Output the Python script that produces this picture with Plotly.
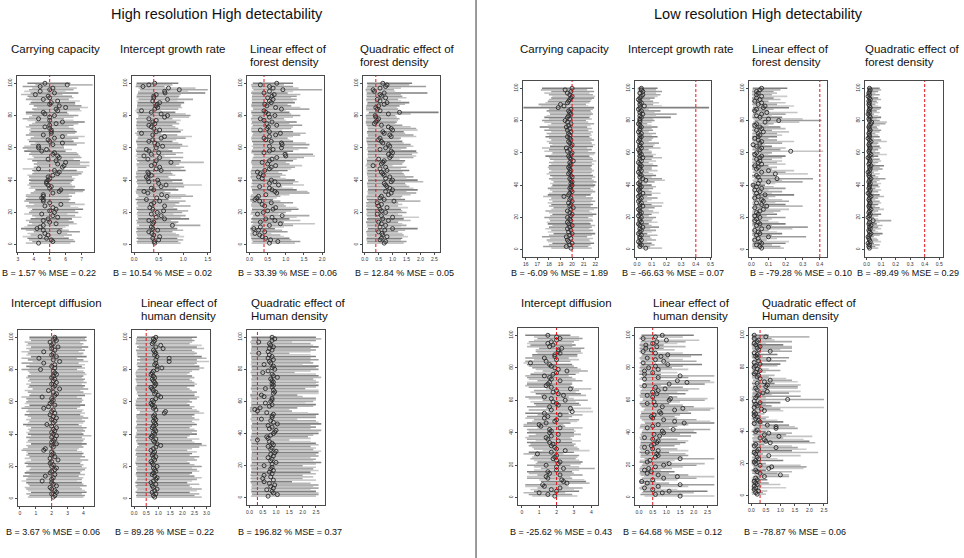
import plotly.graph_objects as go

W, H = 964, 558

# ---------------- data (rows 1..100 = simulation index, bottom to top) ----------------
sim = list(range(1, 101))

cc_hr_est = [4.3,5.2,5.1,4.8,4.4,4.9,4.7,5.6,4.6,4.2, 4.4,4.6,5.4,5.0,4.6,4.9,5.5,5.2,4.5,5.3,
             5.0,5.4,5.2,4.7,5.7,5.0,4.6,4.6,4.5,4.6, 4.6,5.2,5.6,5.7,5.0,5.1,4.9,4.8,4.8,4.9,
             5.0,4.9,5.2,5.5,5.6,5.3,4.3,5.8,5.9,5.5, 6.0,5.4,4.9,5.6,5.5,5.2,5.3,4.5,4.8,4.3,
             4.3,5.2,5.8,5.0,4.9,5.3,5.8,4.6,5.1,5.1, 5.1,5.0,4.7,5.0,5.4,5.8,5.0,4.3,5.0,5.3,
             4.7,4.6,5.5,5.4,6.0,5.6,5.0,5.1,5.5,4.6, 5.0,4.9,4.1,5.3,4.4,5.0,5.2,4.4,6.1,4.7]
cc_hr_lo = [3.5,3.9,3.7,3.6,3.3,3.8,3.6,4.0,3.5,3.2, 3.4,3.6,3.9,3.7,3.5,3.8,4.1,3.9,3.4,3.7,
            3.8,3.9,3.6,3.5,4.0,3.7,3.4,3.5,3.6,3.5, 3.5,3.8,4.0,4.1,3.7,3.8,3.6,3.7,3.8,3.7,
            3.8,3.7,3.6,3.9,4.0,3.9,3.3,4.0,4.2,4.0, 4.2,3.9,3.6,4.0,3.9,3.7,3.8,3.4,3.6,3.3,
            3.4,3.8,4.1,3.7,3.6,3.8,4.0,3.5,3.7,3.8, 3.7,3.8,3.5,3.7,3.9,4.1,3.6,3.3,3.7,3.9,
            3.5,3.5,4.0,3.9,4.2,4.0,3.7,3.8,3.9,3.5, 3.7,3.6,3.2,3.8,3.4,3.7,3.9,3.3,4.1,3.6]
cc_hr_hi = [6.3,6.6,6.5,6.2,5.9,6.4,6.1,6.9,6.2,5.8, 6.0,6.2,6.7,6.5,6.2,6.4,7.0,6.6,6.1,6.8,
            6.6,7.1,6.8,6.3,7.2,6.6,6.2,6.3,6.2,6.4, 6.2,6.6,7.1,7.2,6.5,6.6,6.4,6.3,6.4,6.5,
            6.6,6.4,6.8,7.0,7.1,6.7,5.9,7.3,7.5,6.9, 7.5,6.9,6.5,7.0,6.9,6.8,6.7,6.0,6.4,5.9,
            5.9,6.7,7.2,6.5,6.4,6.8,7.2,6.1,6.6,6.7, 6.6,6.5,6.2,6.5,6.8,7.2,6.5,5.9,6.5,6.8,
            6.2,6.1,7.0,6.9,7.4,7.0,6.6,6.6,6.9,6.2, 6.5,6.4,5.8,6.8,6.0,6.5,6.7,6.0,7.7,6.3]

igr_hr_est = [0.42,0.41,0.50,0.38,0.52,0.40,0.36,0.30,0.48,0.38, 0.35,0.78,0.38,0.40,0.30,0.62,0.45,0.55,0.35,0.47,
              0.60,0.38,0.32,0.62,0.35,0.40,0.52,0.25,0.46,0.67, 0.56,0.28,0.20,0.40,0.35,0.55,0.65,0.50,0.30,0.48,
              0.28,0.25,0.35,0.30,0.28,0.55,0.45,0.52,0.35,0.42, 0.75,0.45,0.28,0.52,0.20,0.35,0.50,0.30,0.25,0.45,
              0.58,0.48,0.42,0.30,0.38,0.55,0.62,0.38,0.15,0.45, 0.52,0.40,0.35,0.30,0.42,0.38,0.45,0.30,0.62,0.68,
              0.55,0.35,0.15,0.42,0.48,0.45,0.47,0.52,0.38,0.68, 0.40,0.40,0.45,0.63,0.62,0.92,0.70,0.18,0.30,0.42]
igr_hr_lo = [0.06,0.05,0.08,0.05,0.07,0.06,0.05,0.04,0.07,0.05, 0.05,0.10,0.05,0.06,0.04,0.08,0.06,0.07,0.05,0.06,
             0.08,0.05,0.04,0.08,0.05,0.05,0.07,0.03,0.06,0.09, 0.07,0.04,0.03,0.05,0.05,0.07,0.08,0.06,0.04,0.06,
             0.04,0.03,0.05,0.04,0.04,0.07,0.06,0.07,0.05,0.05, 0.10,0.06,0.04,0.07,0.03,0.05,0.06,0.04,0.03,0.06,
             0.07,0.06,0.05,0.04,0.05,0.07,0.08,0.05,0.02,0.06, 0.07,0.05,0.05,0.04,0.05,0.05,0.06,0.04,0.08,0.09,
             0.07,0.05,0.02,0.05,0.06,0.06,0.06,0.07,0.05,0.09, 0.05,0.05,0.06,0.08,0.08,0.12,0.09,0.03,0.04,0.05]
igr_hr_hi = [0.95,0.90,1.00,0.88,1.02,0.92,0.85,0.78,1.00,0.88, 0.82,1.35,0.86,0.90,0.75,1.12,0.95,1.05,0.80,0.98,
             1.10,0.88,0.80,1.15,0.84,0.92,1.05,0.70,0.96,1.20, 1.05,0.74,0.62,0.90,0.85,1.02,1.38,1.00,0.78,0.98,
             0.74,0.70,0.84,0.78,0.75,1.05,0.95,1.02,0.85,0.92, 1.42,0.95,0.74,1.00,0.62,0.85,1.00,0.78,0.70,0.94,
             1.10,0.98,0.90,0.78,0.86,1.05,1.18,0.88,0.55,0.95, 1.00,0.90,0.84,0.78,0.92,0.86,0.95,0.78,1.12,1.15,
             1.05,0.84,0.55,0.90,0.98,0.95,0.96,1.02,0.88,1.20, 0.90,0.92,0.95,1.45,1.10,1.50,1.25,0.62,0.78,0.90]

lfd_hr_est = [0.55,0.78,0.58,0.45,0.35,0.28,0.15,0.42,0.25,0.12, 0.30,0.55,0.85,0.30,0.70,0.45,0.62,0.90,0.22,0.38,
              0.50,0.65,0.72,0.42,0.35,0.60,0.28,0.15,0.20,0.25, 0.45,0.75,0.70,0.62,0.55,0.28,0.80,0.55,0.70,0.60,
              0.35,0.25,0.38,0.30,0.22,0.42,0.55,0.60,0.72,0.50, 0.35,0.55,0.62,0.75,1.00,0.98,0.40,0.55,0.65,0.88,
              0.55,0.90,0.88,0.60,0.45,0.40,0.55,0.72,0.85,0.55, 0.30,0.48,0.52,0.75,0.48,0.62,0.40,0.30,0.55,0.70,
              0.52,0.45,0.40,0.88,0.72,0.48,0.42,0.60,0.55,0.65, 0.50,0.62,0.68,0.40,0.55,0.92,0.65,0.55,0.30,0.75]
lfd_hr_lo = [0.06,0.09,0.06,0.05,0.04,0.03,0.02,0.05,0.03,0.02, 0.04,0.06,0.10,0.04,0.08,0.05,0.07,0.10,0.03,0.05,
             0.06,0.07,0.08,0.05,0.04,0.07,0.03,0.02,0.03,0.03, 0.05,0.09,0.08,0.07,0.06,0.04,0.09,0.06,0.08,0.07,
             0.04,0.03,0.05,0.04,0.03,0.05,0.06,0.07,0.08,0.06, 0.04,0.06,0.07,0.09,0.12,0.11,0.05,0.06,0.07,0.10,
             0.06,0.10,0.10,0.07,0.05,0.05,0.06,0.08,0.10,0.06, 0.04,0.05,0.06,0.09,0.05,0.07,0.05,0.04,0.06,0.08,
             0.06,0.05,0.05,0.10,0.08,0.05,0.05,0.07,0.06,0.07, 0.06,0.07,0.08,0.05,0.06,0.11,0.07,0.06,0.04,0.09]
lfd_hr_hi = [1.25,1.40,1.15,1.10,0.95,0.85,0.60,1.05,0.90,0.70, 0.95,1.20,1.80,0.95,1.40,1.10,1.30,1.65,0.80,1.00,
             1.15,1.35,1.30,1.00,0.95,1.20,0.85,0.65,0.75,0.85, 1.10,1.65,1.60,1.30,1.20,0.90,1.50,1.20,1.35,1.25,
             1.00,0.85,1.00,0.90,0.80,1.05,1.15,1.25,1.45,1.10, 1.00,1.20,1.30,1.50,1.80,1.75,1.05,1.20,1.35,1.60,
             1.20,1.65,1.55,1.20,1.10,1.05,1.20,1.40,1.55,1.20, 0.90,1.15,1.20,1.45,1.10,1.30,1.00,0.95,1.20,1.40,
             1.15,1.10,1.00,1.65,1.40,1.15,1.05,1.25,1.20,1.30, 1.15,1.30,1.40,1.05,1.20,2.00,1.35,1.20,0.95,1.20]

qfd_hr_est = [0.70,0.75,0.55,0.60,0.80,0.65,0.62,0.50,0.72,1.00, 0.55,0.75,0.60,0.50,0.85,0.65,1.00,0.60,0.45,0.75,
              0.60,0.55,0.80,0.50,0.60,0.45,1.05,0.70,0.55,0.60, 0.85,0.95,0.75,1.00,0.90,0.80,0.75,0.70,0.95,1.00,
              0.75,0.90,0.70,0.65,0.60,0.80,0.55,0.75,0.30,0.60, 0.65,0.70,0.50,0.90,0.95,0.85,1.00,0.95,0.55,0.75,
              0.90,0.85,0.65,0.60,0.50,0.55,0.95,0.90,0.70,0.65, 1.00,0.95,0.85,0.60,0.35,0.40,0.45,0.50,0.40,0.38,
              0.85,1.25,0.55,0.45,0.40,0.50,0.70,0.80,0.55,0.45, 0.75,0.60,0.55,0.70,0.35,0.30,0.55,0.75,0.80,0.65]
qfd_hr_lo = [0.08,0.09,0.06,0.07,0.10,0.08,0.07,0.05,0.09,0.12, 0.06,0.09,0.07,0.05,0.10,0.08,0.12,0.07,0.05,0.09,
             0.07,0.06,0.10,0.05,0.07,0.05,0.13,0.08,0.06,0.07, 0.10,0.11,0.09,0.12,0.11,0.10,0.09,0.08,0.11,0.12,
             0.09,0.11,0.08,0.08,0.07,0.10,0.06,0.09,0.03,0.07, 0.08,0.08,0.06,0.11,0.11,0.10,0.12,0.11,0.06,0.09,
             0.11,0.10,0.08,0.07,0.06,0.06,0.11,0.11,0.08,0.08, 0.12,0.11,0.10,0.07,0.04,0.04,0.05,0.06,0.04,0.04,
             0.10,0.15,0.06,0.05,0.04,0.06,0.08,0.10,0.06,0.05, 0.09,0.07,0.06,0.08,0.04,0.03,0.06,0.09,0.10,0.08]
qfd_hr_hi = [1.40,1.50,1.30,1.35,1.55,1.40,1.35,1.20,1.45,1.90, 1.30,1.50,1.35,1.20,1.65,1.40,1.95,1.35,1.20,1.50,
             1.35,1.30,1.55,1.20,1.35,1.20,2.00,1.45,1.30,1.35, 1.65,1.85,1.50,1.90,1.75,1.60,1.50,1.45,2.10,1.90,
             1.50,1.75,1.45,1.40,1.35,1.60,1.30,1.50,1.00,1.35, 1.40,1.45,1.25,1.75,1.85,1.70,1.90,1.85,1.30,1.50,
             1.75,1.65,1.40,1.35,1.25,1.30,1.85,1.75,1.45,1.40, 1.90,1.85,1.65,1.35,1.10,1.15,1.20,1.25,1.15,1.10,
             1.65,2.65,1.30,1.20,1.15,1.25,1.45,1.60,1.30,1.20, 1.50,1.35,1.30,2.25,1.10,1.05,1.30,2.20,1.60,1.70]

cc_lr_est = [19.9,19.5,19.8,20.0,19.7,19.6,19.9,19.5,19.8,20.0, 19.7,19.9,19.6,19.8,20.0,19.7,19.6,19.9,19.8,19.6,
             19.9,20.0,19.8,19.6,19.9,20.1,19.8,19.9,19.7,20.0, 19.8,19.9,19.3,19.7,19.8,20.0,19.9,19.8,19.9,20.0,
             19.9,20.0,19.9,19.8,20.0,19.9,19.7,19.8,19.9,19.8, 19.7,19.8,19.9,19.8,20.1,19.9,19.8,19.7,19.9,20.0,
             19.6,19.8,19.5,19.9,20.0,19.8,19.7,19.9,19.8,19.6, 19.8,19.7,19.9,19.6,19.8,19.5,19.7,19.9,19.6,19.4,
             19.8,19.6,19.7,19.9,19.8,19.7,19.9,18.8,19.3,19.0, 19.6,19.7,19.8,19.9,20.0,19.8,19.6,19.9,19.4,20.0]
cc_lr_lo = [18.2,17.5,18.0,18.3,17.9,17.8,18.1,17.4,18.0,18.4, 17.9,18.2,17.7,18.0,18.3,17.9,17.8,18.1,18.0,17.6,
            18.1,18.3,18.0,17.7,18.2,18.4,18.0,18.2,17.9,18.3, 18.0,18.2,17.5,17.9,18.0,18.3,18.1,17.9,18.2,18.3,
            18.1,18.4,18.2,18.0,18.3,18.1,17.8,18.0,18.2,18.0, 17.9,18.0,18.2,18.0,18.4,18.1,18.0,17.7,18.2,18.3,
            17.6,18.0,17.4,18.1,18.3,18.0,17.8,18.2,18.0,17.7, 18.0,17.8,18.2,17.6,18.0,17.2,17.9,18.2,17.6,17.4,
            18.0,17.6,17.8,18.1,18.0,17.8,18.0,15.8,17.3,17.1, 17.7,17.9,18.0,18.2,18.3,18.0,17.6,18.2,17.3,17.4]
cc_lr_hi = [21.7,21.4,21.6,21.9,21.6,21.5,21.8,21.3,21.7,22.0, 21.6,21.8,21.5,21.7,22.0,21.6,21.5,21.8,21.7,21.4,
            21.8,22.1,21.7,21.5,21.9,22.2,21.6,21.8,21.6,22.0, 21.7,21.8,21.2,21.6,21.7,22.0,21.8,21.6,21.9,22.0,
            21.8,22.1,21.9,21.7,22.0,21.8,21.6,21.7,21.9,21.7, 21.6,21.7,21.9,21.7,22.1,21.8,21.7,21.5,21.9,22.0,
            21.4,21.7,21.3,21.8,22.0,21.7,21.6,21.9,21.7,21.5, 21.7,21.6,21.8,21.4,21.7,21.3,21.6,21.9,21.4,21.2,
            21.7,21.5,21.6,21.8,21.7,21.6,21.8,21.9,21.4,21.2, 21.5,21.6,21.7,21.9,22.0,21.8,21.5,21.9,21.3,21.8]

igr_lr_est = [0.06,0.02,0.03,0.02,0.01,0.03,0.02,0.02,0.03,0.01, 0.02,0.03,0.02,0.04,0.02,0.01,0.03,0.02,0.02,0.03,
              0.01,0.02,0.03,0.02,0.01,0.02,0.04,0.02,0.03,0.01, 0.02,0.03,0.01,0.02,0.04,0.02,0.01,0.02,0.03,0.02,
              0.01,0.02,0.06,0.04,0.02,0.03,0.02,0.01,0.03,0.02, 0.02,0.03,0.02,0.01,0.03,0.02,0.04,0.02,0.03,0.02,
              0.02,0.01,0.03,0.02,0.02,0.03,0.01,0.02,0.02,0.03, 0.02,0.03,0.01,0.02,0.02,0.03,0.02,0.01,0.02,0.02,
              0.02,0.03,0.02,0.04,0.02,0.03,0.01,0.02,0.05,0.02, 0.03,0.02,0.01,0.02,0.03,0.04,0.02,0.04,0.03,0.03]
igr_lr_lo = [0.008,0.003,0.005,0.003,0.002,0.005,0.003,0.003,0.005,0.002, 0.003,0.005,0.003,0.006,0.003,0.002,0.005,0.003,0.003,0.005,
             0.002,0.003,0.005,0.003,0.002,0.003,0.006,0.003,0.005,0.002, 0.003,0.005,0.002,0.003,0.006,0.003,0.002,0.003,0.005,0.003,
             0.002,0.003,0.008,0.006,0.003,0.005,0.003,0.002,0.005,0.003, 0.003,0.005,0.003,0.002,0.005,0.003,0.006,0.003,0.005,0.003,
             0.003,0.002,0.005,0.003,0.003,0.005,0.002,0.003,0.003,0.005, 0.003,0.005,0.002,0.003,0.003,0.005,0.003,0.002,0.003,0.003,
             0.003,0.005,0.003,0.006,0.003,0.005,0.002,0.003,0.007,0.003, 0.005,0.003,0.002,0.003,0.005,0.006,0.003,0.006,0.005,0.005]
igr_lr_hi = [0.17,0.09,0.12,0.10,0.07,0.13,0.10,0.09,0.14,0.07, 0.10,0.13,0.09,0.15,0.10,0.08,0.14,0.10,0.11,0.13,
             0.08,0.10,0.15,0.11,0.08,0.12,0.17,0.10,0.18,0.07, 0.10,0.14,0.07,0.10,0.16,0.10,0.08,0.11,0.13,0.10,
             0.07,0.12,0.19,0.17,0.10,0.13,0.11,0.08,0.14,0.10, 0.10,0.14,0.11,0.08,0.13,0.10,0.17,0.11,0.13,0.10,
             0.10,0.08,0.16,0.11,0.12,0.15,0.08,0.10,0.11,0.14, 0.10,0.13,0.08,0.11,0.10,0.14,0.10,0.07,0.10,0.12,
             0.11,0.23,0.13,0.27,0.12,0.16,0.08,0.49,0.17,0.11, 0.15,0.11,0.09,0.12,0.14,0.16,0.13,0.17,0.13,0.14]

lfd_lr_est = [0.06,0.05,0.03,0.06,0.05,0.02,0.04,0.10,0.03,0.05, 0.04,0.02,0.06,0.10,0.03,0.05,0.04,0.02,0.03,0.05,
              0.02,0.04,0.03,0.05,0.07,0.02,0.09,0.06,0.03,0.07, 0.06,0.02,0.04,0.08,0.03,0.05,0.02,0.06,0.03,0.01,
              0.04,0.10,0.05,0.15,0.04,0.03,0.14,0.06,0.10,0.03, 0.04,0.02,0.06,0.04,0.05,0.03,0.05,0.06,0.02,0.03,
              0.23,0.05,0.06,0.03,0.01,0.05,0.06,0.04,0.02,0.04, 0.05,0.04,0.07,0.03,0.06,0.05,0.02,0.03,0.08,0.16,
              0.10,0.05,0.03,0.06,0.09,0.02,0.03,0.07,0.08,0.04, 0.06,0.02,0.05,0.03,0.06,0.03,0.04,0.03,0.05,0.06]
lfd_lr_lo = [0.008,0.006,0.004,0.008,0.006,0.003,0.005,0.012,0.004,0.006, 0.005,0.003,0.008,0.012,0.004,0.006,0.005,0.003,0.004,0.006,
             0.003,0.005,0.004,0.006,0.009,0.003,0.011,0.008,0.004,0.009, 0.008,0.003,0.005,0.010,0.004,0.006,0.003,0.008,0.004,0.002,
             0.005,0.012,0.006,0.018,0.005,0.004,0.017,0.008,0.012,0.004, 0.005,0.003,0.008,0.005,0.006,0.004,0.006,0.008,0.003,0.004,
             0.025,0.006,0.008,0.004,0.002,0.006,0.008,0.005,0.003,0.005, 0.006,0.005,0.009,0.004,0.008,0.006,0.003,0.004,0.010,0.019,
             0.012,0.006,0.004,0.008,0.011,0.003,0.004,0.009,0.010,0.005, 0.008,0.003,0.006,0.004,0.008,0.004,0.005,0.004,0.006,0.008]
lfd_lr_hi = [0.19,0.17,0.12,0.20,0.22,0.09,0.15,0.32,0.12,0.18, 0.15,0.10,0.24,0.33,0.12,0.20,0.16,0.10,0.12,0.20,
             0.09,0.15,0.13,0.17,0.22,0.10,0.30,0.20,0.14,0.22, 0.18,0.10,0.14,0.25,0.12,0.18,0.10,0.20,0.13,0.08,
             0.14,0.30,0.18,0.36,0.15,0.14,0.33,0.20,0.25,0.12, 0.15,0.10,0.20,0.15,0.18,0.12,0.18,0.20,0.10,0.12,
             0.42,0.17,0.20,0.12,0.08,0.18,0.25,0.15,0.10,0.15, 0.18,0.15,0.22,0.12,0.20,0.17,0.10,0.13,0.28,0.41,
             0.30,0.18,0.12,0.20,0.27,0.10,0.13,0.22,0.25,0.15, 0.20,0.10,0.17,0.13,0.21,0.12,0.15,0.13,0.17,0.21]

qfd_lr_est = [0.020,0.015,0.020,0.010,0.025,0.020,0.015,0.010,0.020,0.030, 0.020,0.015,0.025,0.020,0.030,0.015,0.020,0.045,0.020,0.010,
              0.020,0.025,0.015,0.020,0.030,0.020,0.015,0.020,0.025,0.020, 0.015,0.020,0.030,0.020,0.010,0.020,0.025,0.015,0.020,0.020,
              0.025,0.015,0.020,0.030,0.020,0.015,0.020,0.010,0.020,0.025, 0.020,0.030,0.015,0.020,0.025,0.020,0.010,0.020,0.030,0.020,
              0.015,0.020,0.025,0.020,0.015,0.020,0.030,0.020,0.010,0.020, 0.020,0.015,0.020,0.025,0.020,0.015,0.020,0.030,0.035,0.020,
              0.015,0.025,0.020,0.010,0.020,0.015,0.020,0.025,0.020,0.015, 0.020,0.015,0.025,0.020,0.010,0.020,0.015,0.020,0.025,0.020]
qfd_lr_lo = [0.003,0.002,0.003,0.001,0.004,0.003,0.002,0.001,0.003,0.004, 0.003,0.002,0.004,0.003,0.004,0.002,0.003,0.006,0.003,0.001,
             0.003,0.004,0.002,0.003,0.004,0.003,0.002,0.003,0.004,0.003, 0.002,0.003,0.004,0.003,0.001,0.003,0.004,0.002,0.003,0.003,
             0.004,0.002,0.003,0.004,0.003,0.002,0.003,0.001,0.003,0.004, 0.003,0.004,0.002,0.003,0.004,0.003,0.001,0.003,0.004,0.003,
             0.002,0.003,0.004,0.003,0.002,0.003,0.004,0.003,0.001,0.003, 0.003,0.002,0.003,0.004,0.003,0.002,0.003,0.004,0.005,0.003,
             0.002,0.004,0.003,0.001,0.003,0.002,0.003,0.004,0.003,0.002, 0.003,0.002,0.004,0.003,0.001,0.003,0.002,0.003,0.004,0.003]
qfd_lr_hi = [0.08,0.06,0.09,0.05,0.10,0.08,0.07,0.05,0.09,0.11, 0.08,0.06,0.10,0.08,0.11,0.07,0.09,0.17,0.08,0.05,
             0.08,0.10,0.06,0.08,0.12,0.09,0.06,0.08,0.10,0.09, 0.06,0.08,0.12,0.09,0.05,0.08,0.10,0.06,0.09,0.08,
             0.10,0.07,0.09,0.13,0.08,0.06,0.09,0.05,0.08,0.11, 0.09,0.12,0.06,0.08,0.10,0.09,0.05,0.08,0.14,0.09,
             0.06,0.08,0.10,0.09,0.07,0.08,0.14,0.10,0.05,0.09, 0.08,0.06,0.09,0.10,0.08,0.07,0.09,0.13,0.14,0.09,
             0.07,0.10,0.08,0.05,0.09,0.07,0.09,0.10,0.08,0.06, 0.08,0.07,0.10,0.08,0.05,0.09,0.06,0.08,0.10,0.09]

id_hr_est = [2.1,2.2,2.0,2.3,2.2,2.0,1.9,2.3,2.1,2.0, 1.4,2.0,2.1,1.6,2.2,1.9,2.0,2.2,2.3,2.0,
             2.1,1.9,2.0,2.4,1.9,2.2,2.0,2.1,2.0,1.5, 1.6,2.1,2.0,2.3,2.0,2.1,2.2,2.0,2.3,2.1,
             2.0,2.2,2.1,2.3,2.0,1.7,2.1,2.2,2.0,2.3, 2.1,1.9,2.2,2.0,2.1,1.5,1.8,2.2,1.9,2.0,
             2.1,2.0,1.4,2.2,2.3,2.1,1.8,2.5,2.1,2.2, 2.0,2.3,2.1,2.2,2.0,2.1,2.3,2.2,2.1,1.3,
             2.2,2.0,2.2,1.5,2.5,2.1,1.2,2.3,2.0,2.1, 1.5,2.2,2.0,2.4,2.0,2.1,1.9,2.3,2.2,2.2]
id_hr_lo = [0.5,0.6,0.4,0.7,0.5,0.4,0.3,0.6,0.5,0.4, 0.1,0.4,0.5,0.2,0.6,0.3,0.4,0.6,0.7,0.4,
            0.5,0.3,0.4,0.7,0.3,0.6,0.4,0.5,0.4,0.1, 0.2,0.5,0.4,0.7,0.4,0.5,0.6,0.4,0.7,0.5,
            0.4,0.6,0.5,0.7,0.4,0.2,0.5,0.6,0.4,0.7, 0.5,0.3,0.6,0.4,0.5,0.1,0.3,0.6,0.3,0.4,
            0.5,0.4,0.1,0.6,0.7,0.5,0.3,0.8,0.5,0.6, 0.4,0.7,0.5,0.6,0.4,0.5,0.7,0.6,0.5,0.1,
            0.6,0.4,0.6,0.1,0.8,0.5,0.1,0.7,0.4,0.5, 0.1,0.6,0.4,0.7,0.4,0.5,0.3,0.7,0.6,0.6]
id_hr_hi = [4.0,4.1,3.9,4.2,4.1,3.9,3.8,4.2,4.0,3.9, 3.6,3.9,4.0,3.7,4.1,3.8,3.9,4.1,4.2,3.9,
            4.0,3.8,3.9,4.3,3.8,4.1,3.9,4.0,3.9,3.6, 3.7,4.0,3.9,4.2,3.9,4.0,4.1,3.9,4.5,4.0,
            3.9,4.1,4.0,4.2,3.9,3.7,4.0,4.1,3.9,4.3, 4.0,3.8,4.1,3.9,4.0,3.6,3.8,4.1,3.8,3.9,
            4.0,3.9,3.6,4.1,4.5,4.0,3.8,4.3,4.0,4.1, 3.9,4.2,4.0,4.1,3.9,4.0,4.2,4.1,4.0,3.6,
            4.1,3.9,4.1,3.7,4.3,4.0,3.6,4.2,3.9,4.0, 3.7,4.1,3.9,4.3,3.9,4.0,3.8,4.2,4.1,4.2]

lhd_hr_est = [0.85,0.80,0.90,0.75,0.85,0.95,0.80,0.75,0.90,0.70, 0.80,0.90,0.95,0.85,0.75,0.80,0.90,0.85,0.80,0.95,
              0.80,0.75,0.70,0.85,0.80,0.90,0.75,0.80,0.85,0.70, 0.80,0.90,1.10,0.95,0.85,0.80,0.90,0.70,0.75,0.85,
              0.80,0.90,0.85,0.75,0.80,0.90,0.85,0.80,0.90,0.85, 0.80,0.85,1.25,1.30,0.90,0.80,0.85,0.75,0.70,0.80,
              0.75,0.90,1.10,1.00,0.85,0.90,0.80,0.75,0.70,0.85, 0.90,0.85,0.80,0.75,0.85,0.80,0.70,0.75,0.80,0.95,
              1.15,0.95,0.85,0.90,1.45,0.90,1.45,0.95,0.85,0.90, 0.85,0.80,1.20,0.90,1.10,0.75,0.80,0.85,0.80,0.90]
lhd_hr_lo = [0.10,0.08,0.12,0.06,0.10,0.14,0.08,0.06,0.12,0.05, 0.08,0.12,0.14,0.10,0.06,0.08,0.12,0.10,0.08,0.14,
             0.08,0.06,0.05,0.10,0.08,0.12,0.06,0.08,0.10,0.05, 0.08,0.12,0.20,0.14,0.10,0.08,0.12,0.05,0.06,0.10,
             0.08,0.12,0.10,0.06,0.08,0.12,0.10,0.08,0.12,0.10, 0.08,0.10,0.22,0.24,0.12,0.08,0.10,0.06,0.05,0.08,
             0.06,0.12,0.20,0.16,0.10,0.12,0.08,0.06,0.05,0.10, 0.12,0.10,0.08,0.06,0.10,0.08,0.05,0.06,0.08,0.14,
             0.20,0.14,0.10,0.12,0.25,0.12,0.25,0.14,0.10,0.12, 0.10,0.08,0.20,0.12,0.18,0.06,0.08,0.10,0.08,0.12]
lhd_hr_hi = [2.8,2.5,2.7,2.3,2.6,2.8,2.4,2.3,2.7,2.2, 2.4,2.6,2.8,2.5,2.3,2.4,2.7,2.6,2.4,2.8,
             2.5,2.3,2.2,2.6,2.5,2.7,2.3,2.4,2.6,2.2, 2.4,2.7,3.0,2.8,2.5,2.4,2.7,2.2,2.3,2.6,
             2.4,2.6,2.5,2.3,2.4,2.6,2.5,2.4,2.7,2.5, 2.4,2.5,2.9,2.7,2.6,2.4,2.5,2.3,2.2,2.4,
             2.3,2.6,2.7,2.5,2.5,2.6,2.4,2.3,2.2,2.5, 2.6,2.5,2.4,2.3,2.5,2.4,2.2,2.3,2.4,2.7,
             2.9,2.7,2.5,2.6,3.1,2.6,3.0,2.8,2.5,2.6, 2.5,2.4,2.9,2.6,2.8,2.3,2.4,2.5,2.4,2.6]

qhd_hr_est = [0.70,1.05,0.90,0.85,0.65,0.90,0.80,0.95,0.75,0.55, 0.90,0.50,0.80,0.55,0.85,0.75,0.90,0.80,0.85,0.55,
              0.85,1.00,0.80,0.85,0.70,0.90,0.80,0.95,1.00,0.80, 0.85,0.70,0.90,0.85,0.75,0.30,0.70,0.65,0.80,0.90,
              0.95,1.00,0.75,0.85,0.70,1.05,0.90,0.80,0.45,0.85, 0.85,0.90,0.65,0.30,0.20,0.40,0.75,0.85,0.60,0.80,
              0.85,0.85,0.55,0.45,0.90,0.95,0.90,0.60,0.85,0.90, 0.85,0.90,0.85,0.80,1.05,0.90,0.85,0.50,0.70,0.95,
              0.85,0.90,0.55,0.80,0.75,0.90,0.70,0.85,0.75,0.35, 0.70,0.85,0.75,0.90,0.80,0.75,0.35,0.85,0.95,0.85]
qhd_hr_lo = [0.06,0.10,0.08,0.07,0.05,0.08,0.07,0.09,0.06,0.04, 0.08,0.04,0.07,0.04,0.07,0.06,0.08,0.07,0.07,0.04,
             0.07,0.09,0.07,0.07,0.06,0.08,0.07,0.09,0.09,0.07, 0.07,0.06,0.08,0.07,0.06,0.02,0.06,0.05,0.07,0.08,
             0.09,0.09,0.06,0.07,0.06,0.10,0.08,0.07,0.03,0.07, 0.07,0.08,0.05,0.02,0.01,0.03,0.06,0.07,0.05,0.07,
             0.07,0.07,0.04,0.03,0.08,0.09,0.08,0.05,0.07,0.08, 0.07,0.08,0.07,0.07,0.10,0.08,0.07,0.04,0.06,0.09,
             0.07,0.08,0.04,0.07,0.06,0.08,0.06,0.07,0.06,0.02, 0.06,0.07,0.06,0.08,0.07,0.06,0.02,0.07,0.09,0.07]
qhd_hr_hi = [2.5,2.6,2.6,2.5,2.3,2.6,2.4,2.6,2.3,1.6, 2.5,2.0,2.4,2.0,2.5,2.3,2.6,2.4,2.5,2.0,
             2.5,2.7,2.4,2.5,2.3,2.6,2.5,2.6,2.7,2.4, 2.5,2.3,2.6,2.5,2.3,1.5,2.3,2.2,2.4,2.6,
             2.6,2.7,2.3,2.5,2.3,2.7,2.6,2.5,1.8,2.5, 2.5,2.6,2.2,1.6,1.5,1.8,2.4,2.5,2.1,2.4,
             2.5,2.5,2.0,1.8,2.6,2.6,2.6,2.1,2.5,2.6, 2.5,2.6,2.5,2.4,2.7,2.6,2.5,1.7,2.3,2.6,
             2.5,2.6,2.0,2.4,2.3,2.6,2.3,2.5,2.3,1.5, 2.3,2.5,2.3,2.6,2.4,2.3,1.6,2.5,2.7,2.5]

id_lr_est = [1.9,1.5,1.0,2.0,1.7,2.2,1.3,1.2,2.6,2.4, 2.3,1.5,1.4,2.2,1.6,1.5,2.0,2.4,2.0,1.4,
             2.1,2.2,2.0,1.8,1.9,2.0,0.9,1.7,2.5,2.0, 1.9,1.7,1.8,1.6,2.1,1.5,1.4,1.7,2.1,1.6,
             1.7,1.6,2.2,1.1,1.0,1.4,1.9,2.0,1.3,1.5, 2.2,1.3,2.9,1.7,2.8,1.6,2.1,2.0,1.8,2.5,
             1.7,1.3,2.4,2.1,1.8,2.0,2.8,1.7,1.4,1.5, 1.6,2.2,1.7,1.6,1.3,1.8,2.0,2.6,2.1,1.9,
             1.7,1.6,0.5,1.4,2.0,1.3,1.9,1.9,2.2,2.1, 2.1,2.3,1.6,1.8,1.5,1.7,2.0,2.2,2.0,1.5]
id_lr_lo = [0.6,0.4,0.1,0.7,0.5,0.9,0.2,0.2,1.3,1.1, 1.0,0.3,0.3,0.9,0.4,0.3,0.7,1.1,0.7,0.3,
            0.8,0.9,0.7,0.5,0.6,0.7,0.1,0.4,1.2,0.7, 0.6,0.4,0.5,0.3,0.8,0.3,0.2,0.4,0.8,0.3,
            0.4,0.3,0.9,0.1,0.1,0.3,0.6,0.7,0.2,0.3, 0.9,0.2,1.5,0.4,1.4,0.3,0.8,0.7,0.5,1.2,
            0.4,0.2,1.1,0.8,0.5,0.7,1.4,0.4,0.2,0.3, 0.3,0.9,0.4,0.3,0.2,0.5,0.7,1.2,0.8,0.6,
            0.4,0.3,0.1,0.2,0.7,0.2,0.6,0.6,0.9,0.8, 0.8,1.0,0.3,0.5,0.3,0.4,0.7,0.9,0.7,0.2]
id_lr_hi = [3.2,2.9,2.5,3.3,3.0,3.5,2.7,2.6,3.9,3.7, 3.6,2.9,2.8,3.5,3.0,2.9,3.3,4.2,3.3,2.8,
            3.4,3.5,3.3,3.1,3.2,3.3,2.4,3.0,3.9,3.3, 3.2,3.0,3.1,2.9,3.4,2.9,2.8,3.0,3.4,3.0,
            3.1,3.0,3.5,2.5,2.4,2.8,3.2,3.3,2.7,2.9, 3.5,2.7,4.1,3.0,4.0,2.9,3.4,3.3,3.1,3.8,
            3.0,2.7,3.7,3.4,3.1,3.3,4.0,3.0,2.8,2.9, 2.9,3.5,3.1,2.9,2.7,3.1,3.3,3.8,3.4,3.2,
            3.0,2.9,2.0,2.8,3.3,2.7,3.2,3.2,3.5,3.4, 3.4,3.6,2.9,3.1,2.9,3.0,3.3,3.5,3.3,2.8]

lhd_lr_est = [1.50,0.60,0.85,1.10,0.50,0.20,0.70,1.50,0.30,0.10, 0.50,0.90,1.40,0.70,0.30,0.45,0.20,0.35,0.60,0.90,
              1.10,0.30,0.40,1.50,0.60,0.70,0.65,0.30,0.70,0.50, 0.20,0.45,0.55,0.65,0.70,0.50,0.20,0.75,0.55,0.90,
              0.85,1.25,0.30,0.50,0.70,1.65,1.30,0.90,0.50,0.45, 0.55,0.80,0.75,1.30,1.60,0.85,0.60,0.30,0.55,1.10,
              1.15,0.50,0.30,0.65,0.50,0.70,0.95,0.60,0.20,1.10, 1.75,1.40,0.20,0.70,1.50,0.20,0.50,0.20,0.70,0.35,
              0.60,1.05,0.15,0.90,0.60,0.30,0.80,1.05,0.60,0.15, 0.45,0.25,0.65,0.25,0.50,0.65,1.00,0.15,0.60,0.85]
lhd_lr_lo = [0.20,0.05,0.10,0.15,0.04,0.01,0.06,0.20,0.02,0.00, 0.04,0.10,0.18,0.06,0.02,0.04,0.01,0.02,0.05,0.10,
             0.14,0.02,0.03,0.20,0.05,0.06,0.06,0.02,0.06,0.04, 0.01,0.04,0.05,0.06,0.06,0.04,0.01,0.07,0.05,0.10,
             0.10,0.16,0.02,0.04,0.06,0.22,0.17,0.10,0.04,0.04, 0.05,0.08,0.07,0.17,0.21,0.09,0.05,0.02,0.05,0.13,
             0.14,0.04,0.02,0.06,0.04,0.06,0.11,0.05,0.01,0.13, 0.23,0.18,0.01,0.06,0.20,0.01,0.04,0.01,0.06,0.02,
             0.05,0.12,0.01,0.10,0.05,0.02,0.08,0.12,0.05,0.01, 0.04,0.02,0.06,0.02,0.04,0.06,0.11,0.01,0.05,0.09]
lhd_lr_hi = [2.75,1.60,2.00,2.50,1.40,0.80,1.80,2.75,1.10,0.60, 1.40,2.10,2.75,1.80,1.10,1.30,0.80,1.20,1.60,2.10,
             2.40,1.10,1.30,2.75,1.60,1.80,1.70,1.10,1.80,1.40, 0.80,1.30,1.50,1.70,1.80,1.40,0.80,1.90,1.50,2.10,
             2.00,2.60,1.10,1.40,1.80,2.75,2.60,2.10,1.40,1.30, 1.50,1.90,1.80,2.60,2.75,2.00,1.60,1.10,1.50,2.40,
             2.50,1.40,1.10,1.70,1.40,1.80,2.20,1.60,0.80,2.40, 2.75,2.60,0.80,1.80,2.75,0.80,1.40,0.80,1.80,1.20,
             1.60,2.30,0.60,2.10,1.60,1.10,1.90,2.30,1.60,0.60, 1.30,0.90,1.70,0.90,1.40,1.70,2.20,0.60,1.60,2.00]

qhd_lr_est = [0.20,0.15,0.25,0.10,0.15,0.10,0.20,0.15,0.10,0.20, 0.15,0.45,1.00,0.30,0.20,0.15,0.60,0.70,0.30,0.15,
              0.10,0.15,0.25,0.20,0.60,0.15,0.10,0.20,0.25,0.85, 0.10,0.15,0.65,0.50,0.45,0.30,0.95,0.45,0.60,0.15,
              0.20,0.85,0.85,0.55,0.10,0.30,0.25,0.15,0.20,0.10, 0.15,0.10,0.45,0.35,0.10,0.20,0.15,0.30,0.10,1.25,
              0.15,0.20,0.25,0.40,0.55,0.20,0.15,0.50,0.55,0.20, 0.45,0.65,0.30,0.20,0.25,0.10,0.15,0.30,0.20,0.10,
              0.15,0.30,0.10,0.25,0.60,0.20,0.15,0.20,0.10,0.65, 0.25,0.20,0.30,0.15,0.10,0.20,0.25,0.10,0.50,0.10]
qhd_lr_lo = [0.02,0.01,0.03,0.01,0.01,0.01,0.02,0.01,0.01,0.02, 0.01,0.05,0.10,0.03,0.02,0.01,0.06,0.07,0.03,0.01,
             0.01,0.01,0.03,0.02,0.06,0.01,0.01,0.02,0.03,0.08, 0.01,0.01,0.06,0.05,0.04,0.03,0.09,0.04,0.06,0.01,
             0.02,0.08,0.08,0.05,0.01,0.03,0.03,0.01,0.02,0.01, 0.01,0.01,0.04,0.03,0.01,0.02,0.01,0.03,0.01,0.12,
             0.01,0.02,0.03,0.04,0.05,0.02,0.01,0.05,0.05,0.02, 0.04,0.06,0.03,0.02,0.03,0.01,0.01,0.03,0.02,0.01,
             0.01,0.03,0.01,0.03,0.06,0.02,0.01,0.02,0.01,0.06, 0.03,0.02,0.03,0.01,0.01,0.02,0.03,0.01,0.05,0.01]
qhd_lr_hi = [0.50,0.40,0.55,0.30,1.20,0.35,1.00,0.60,0.30,0.55, 0.40,1.30,1.30,0.90,1.40,0.50,1.80,1.90,1.70,0.50,
             0.30,1.10,0.90,0.60,1.70,0.40,2.30,1.40,1.90,1.60, 1.40,0.45,2.20,2.00,1.80,1.10,2.10,1.20,1.40,0.50,
             0.60,1.60,1.50,1.30,0.40,1.10,0.90,0.50,0.60,0.30, 0.45,0.30,1.10,1.00,2.50,0.70,0.50,1.00,0.50,2.50,
             0.50,1.70,0.70,1.30,1.70,0.60,1.60,1.60,1.70,0.80, 1.60,1.40,1.20,0.60,0.80,0.30,0.50,1.00,0.60,0.30,
             0.90,1.00,0.30,1.20,0.70,1.30,0.40,0.90,0.30,1.40, 1.00,1.40,1.40,1.10,0.50,1.40,0.80,0.70,2.00,0.60]

titles_main = ["High resolution High detectability", "Low resolution High detectability"]
panel_titles = [["Carrying capacity"], ["Intercept growth rate"], ["Linear effect of", "forest density"],
                ["Quadratic effect of", "forest density"],
                ["Carrying capacity"], ["Intercept growth rate"], ["Linear effect of", "forest density"],
                ["Quadratic effect of", "forest density"],
                ["Intercept diffusion"], ["Linear effect of", "human density"], ["Quadratic effect of", "Human density"],
                ["Intercept diffusion"], ["Linear effect of", "human density"], ["Quadratic effect of", "Human density"]]
captions = ["B = 1.57 % MSE = 0.22", "B = 10.54 % MSE = 0.02", "B = 33.39 % MSE = 0.06", "B = 12.84 % MSE = 0.05",
            "B = -6.09 % MSE = 1.89", "B = -66.63 % MSE = 0.07", "B = -79.28 % MSE = 0.10", "B = -89.49 % MSE = 0.29",
            "B = 3.67 % MSE = 0.06", "B = 89.28 % MSE = 0.22", "B = 196.82 % MSE = 0.37",
            "B = -25.62 % MSE = 0.43", "B = 64.68 % MSE = 0.12", "B = -78.87 % MSE = 0.06"]
true_vals = [5, 0.4, 0.4, 0.4, 20, 0.4, 0.4, 0.4, 2, 0.5, 0.3, 2, 0.5, 0.3]
x_ticks = [[3, 4, 5, 6, 7], [0.0, 0.5, 1.0, 1.5], [0.0, 0.5, 1.0, 1.5, 2.0], [0.0, 0.5, 1.0, 1.5, 2.0, 2.5],
           [16, 17, 18, 19, 20, 21, 22], [0.0, 0.1, 0.2, 0.3, 0.4, 0.5], [0.0, 0.1, 0.2, 0.3, 0.4],
           [0.0, 0.1, 0.2, 0.3, 0.4, 0.5],
           [0, 1, 2, 3, 4], [0.0, 0.5, 1.0, 1.5, 2.0, 2.5, 3.0], [0.0, 0.5, 1.0, 1.5, 2.0, 2.5],
           [0, 1, 2, 3, 4], [0.0, 0.5, 1.0, 1.5, 2.0, 2.5], [0.0, 0.5, 1.0, 1.5, 2.0, 2.5]]
x_tick_text = [["3", "4", "5", "6", "7"], ["0.0", "0.5", "1.0", "1.5"], ["0.0", "0.5", "1.0", "1.5", "2.0"],
               ["0.0", "0.5", "1.0", "1.5", "2.0", "2.5"], ["16", "17", "18", "19", "20", "21", "22"],
               ["0.0", "0.1", "0.2", "0.3", "0.4", "0.5"], ["0.0", "0.1", "0.2", "0.3", "0.4"],
               ["0.0", "0.1", "0.2", "0.3", "0.4", "0.5"],
               ["0", "1", "2", "3", "4"], ["0.0", "0.5", "1.0", "1.5", "2.0", "2.5", "3.0"],
               ["0.0", "0.5", "1.0", "1.5", "2.0", "2.5"],
               ["0", "1", "2", "3", "4"], ["0.0", "0.5", "1.0", "1.5", "2.0", "2.5"],
               ["0.0", "0.5", "1.0", "1.5", "2.0", "2.5"]]
y_ticks = [0, 20, 40, 60, 80, 100]

series = [(cc_hr_est, cc_hr_lo, cc_hr_hi), (igr_hr_est, igr_hr_lo, igr_hr_hi), (lfd_hr_est, lfd_hr_lo, lfd_hr_hi),
          (qfd_hr_est, qfd_hr_lo, qfd_hr_hi), (cc_lr_est, cc_lr_lo, cc_lr_hi), (igr_lr_est, igr_lr_lo, igr_lr_hi),
          (lfd_lr_est, lfd_lr_lo, lfd_lr_hi), (qfd_lr_est, qfd_lr_lo, qfd_lr_hi), (id_hr_est, id_hr_lo, id_hr_hi),
          (lhd_hr_est, lhd_hr_lo, lhd_hr_hi), (qhd_hr_est, qhd_hr_lo, qhd_hr_hi), (id_lr_est, id_lr_lo, id_lr_hi),
          (lhd_lr_est, lhd_lr_lo, lhd_lr_hi), (qhd_lr_est, qhd_lr_lo, qhd_lr_hi)]

# ---------------- layout geometry (pixels) ----------------
frames = [(15, 93, 76, 252), (131, 209, 76, 252), (247, 324, 76, 252), (363, 441, 76, 252),
          (524, 600, 81, 257), (637, 713, 81, 257), (752, 830, 81, 257), (868, 947, 81, 257),
          (16, 93, 330, 506), (131, 209, 330, 506), (247, 325, 330, 505),
          (519, 600, 328, 505), (637, 719, 328, 505), (752, 830, 328, 503)]
x_ranges = [[2.94, 7.81], [-0.04, 1.54], [-0.055, 2.05], [-0.07, 2.71],
            [15.74, 22.26], [-0.013, 0.50], [-0.012, 0.441], [-0.014, 0.527],
            [-0.125, 4.69], [-0.08, 3.13], [-0.075, 2.84],
            [-0.23, 4.4], [-0.145, 2.83], [-0.07, 2.6]]
title_pos = [(7, 49), (117, 49), (248, 49), (358, 49), (519, 49), (628, 49), (753, 49), (866, 49),
             (7, 303), (138, 303), (249, 303), (520, 303), (653, 303), (763, 303)]
caption_pos = [(47, 273), (162, 273), (287, 273), (405, 273), (561, 273), (675, 273), (804, 273), (912, 273),
               (51, 532), (164, 532), (290, 532), (563, 532), (675, 532), (798, 532)]

SHADES = ["#c4c4c4", "#9c9c9c", "#b8b8b8", "#808080", "#cccccc", "#a8a8a8"]
FONT = "Liberation Sans, Arial, sans-serif"

fig = go.Figure()
layout = dict(width=W, height=H, margin=dict(l=0, r=0, t=0, b=0), paper_bgcolor="white",
              plot_bgcolor="white", showlegend=False)
annotations = []
shapes = []

for k, (est, lo, hi) in enumerate(series):
    n = k + 1
    xa = "x" if n == 1 else f"x{n}"
    ya = "y" if n == 1 else f"y{n}"
    for s, col in enumerate(SHADES):
        xs, ys = [], []
        for i in range(len(sim)):
            if i % len(SHADES) == s:
                xs += [lo[i], hi[i], None]
                ys += [sim[i], sim[i], None]
        fig.add_trace(go.Scatter(x=xs, y=ys, mode="lines", line=dict(color=col, width=1.6),
                                 xaxis=xa, yaxis=ya, hoverinfo="skip"))
    fig.add_trace(go.Scatter(x=est, y=sim, mode="markers", xaxis=xa, yaxis=ya,
                             marker=dict(symbol="circle-open", size=4, color="#2a2a2a", line=dict(width=0.9))))
    x0, x1, y0, y1 = frames[k]
    common = dict(showgrid=False, zeroline=False, showline=True, mirror=True, linecolor="#4a4a4a",
                  linewidth=1, ticks="outside", ticklen=2, tickwidth=0.8, tickcolor="#4a4a4a",
                  tickfont=dict(family=FONT, size=5, color="#333333"))
    layout["xaxis" if n == 1 else f"xaxis{n}"] = dict(
        domain=[x0 / W, x1 / W], range=x_ranges[k], anchor=ya, tickvals=x_ticks[k],
        ticktext=x_tick_text[k], **common)
    layout["yaxis" if n == 1 else f"yaxis{n}"] = dict(
        domain=[1 - y1 / H, 1 - y0 / H], range=[-4.5, 104.5], anchor=xa, tickvals=y_ticks,
        tickangle=-90, **common)
    shapes.append(dict(type="line", xref=xa, yref=f"{ya} domain", x0=true_vals[k], x1=true_vals[k],
                       y0=0, y1=1, line=dict(color="#e8141b", width=1, dash="3px,2px")))
    tx, ty = title_pos[k]
    for j, line in enumerate(panel_titles[k]):
        annotations.append(dict(text=line, x=tx / W, y=1 - (ty + 13 * j) / H, xref="paper", yref="paper",
                                xanchor="left", yanchor="middle", showarrow=False,
                                font=dict(family=FONT, size=11.5, color="#111111")))
    cx, cy = caption_pos[k]
    annotations.append(dict(text=captions[k], x=cx / W, y=1 - cy / H, xref="paper", yref="paper",
                            xanchor="center", yanchor="middle", showarrow=False,
                            font=dict(family=FONT, size=9, color="#111111")))

for t, cx in zip(titles_main, [216, 761]):
    annotations.append(dict(text=t, x=cx / W, y=1 - 14 / H, xref="paper", yref="paper",
                            xanchor="center", yanchor="middle", showarrow=False,
                            font=dict(family=FONT, size=14.5, color="#111111")))

shapes.append(dict(type="line", xref="paper", yref="paper", x0=477 / W, x1=477 / W, y0=0, y1=1,
                   line=dict(color="#7a7a7a", width=1.5)))

layout["annotations"] = annotations
layout["shapes"] = shapes
fig.update_layout(**layout)
fig.write_html("out.html")
